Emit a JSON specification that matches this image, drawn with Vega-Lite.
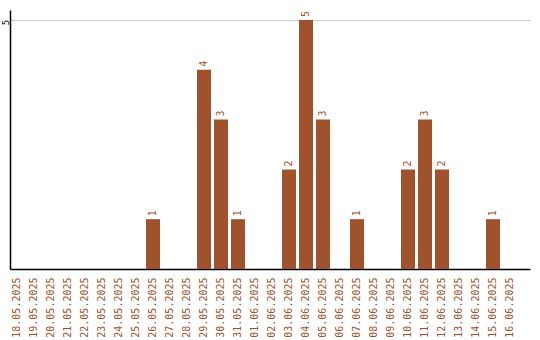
{
  "$schema": "https://vega.github.io/schema/vega-lite/v6.json",
  "autosize": "none",
  "width": 520,
  "height": 259,
  "padding": {"left": 10, "top": 10, "right": 10, "bottom": 71},
  "background": "white",
  "config": {"view": {"stroke": null}},
  "data": {
    "values": [
      {"date": "18.05.2025", "count": 0},
      {"date": "19.05.2025", "count": 0},
      {"date": "20.05.2025", "count": 0},
      {"date": "21.05.2025", "count": 0},
      {"date": "22.05.2025", "count": 0},
      {"date": "23.05.2025", "count": 0},
      {"date": "24.05.2025", "count": 0},
      {"date": "25.05.2025", "count": 0},
      {"date": "26.05.2025", "count": 1},
      {"date": "27.05.2025", "count": 0},
      {"date": "28.05.2025", "count": 0},
      {"date": "29.05.2025", "count": 4},
      {"date": "30.05.2025", "count": 3},
      {"date": "31.05.2025", "count": 1},
      {"date": "01.06.2025", "count": 0},
      {"date": "02.06.2025", "count": 0},
      {"date": "03.06.2025", "count": 2},
      {"date": "04.06.2025", "count": 5},
      {"date": "05.06.2025", "count": 3},
      {"date": "06.06.2025", "count": 0},
      {"date": "07.06.2025", "count": 1},
      {"date": "08.06.2025", "count": 0},
      {"date": "09.06.2025", "count": 0},
      {"date": "10.06.2025", "count": 2},
      {"date": "11.06.2025", "count": 3},
      {"date": "12.06.2025", "count": 2},
      {"date": "13.06.2025", "count": 0},
      {"date": "14.06.2025", "count": 0},
      {"date": "15.06.2025", "count": 1},
      {"date": "16.06.2025", "count": 0}
    ]
  },
  "encoding": {
    "x": {
      "field": "date",
      "type": "ordinal",
      "sort": null,
      "scale": {"paddingInner": 0.176, "paddingOuter": 0.382, "align": 0},
      "axis": {
        "title": null,
        "labelAngle": 270,
        "labelAlign": "right",
        "labelBaseline": "middle",
        "labelColor": "#a0522d",
        "labelFont": "DejaVu Sans Mono",
        "labelFontSize": 10,
        "labelPadding": 8,
        "ticks": false,
        "domainColor": "#000000",
        "domainWidth": 1.5,
        "grid": false
      }
    },
    "y": {
      "field": "count",
      "type": "quantitative",
      "scale": {"domain": [0, 5.2], "nice": false},
      "axis": {
        "title": null,
        "values": [5],
        "labelAngle": 270,
        "labelAlign": "center",
        "labelBaseline": "middle",
        "labelColor": "#000000",
        "labelFont": "DejaVu Sans Mono",
        "labelFontSize": 9,
        "labelPadding": 5,
        "labelOffset": 2,
        "ticks": false,
        "domainColor": "#000000",
        "domainWidth": 1.5,
        "grid": true,
        "gridColor": "#cccccc",
        "gridWidth": 1
      }
    }
  },
  "layer": [
    {"mark": {"type": "bar", "color": "#a0522d"}},
    {
      "transform": [{"filter": "datum.count > 0"}],
      "mark": {
        "type": "text",
        "angle": 270,
        "align": "left",
        "baseline": "middle",
        "font": "DejaVu Sans Mono",
        "fontSize": 10,
        "color": "#a0522d",
        "yOffset": -3
      },
      "encoding": {"text": {"field": "count", "type": "quantitative"}}
    }
  ]
}
